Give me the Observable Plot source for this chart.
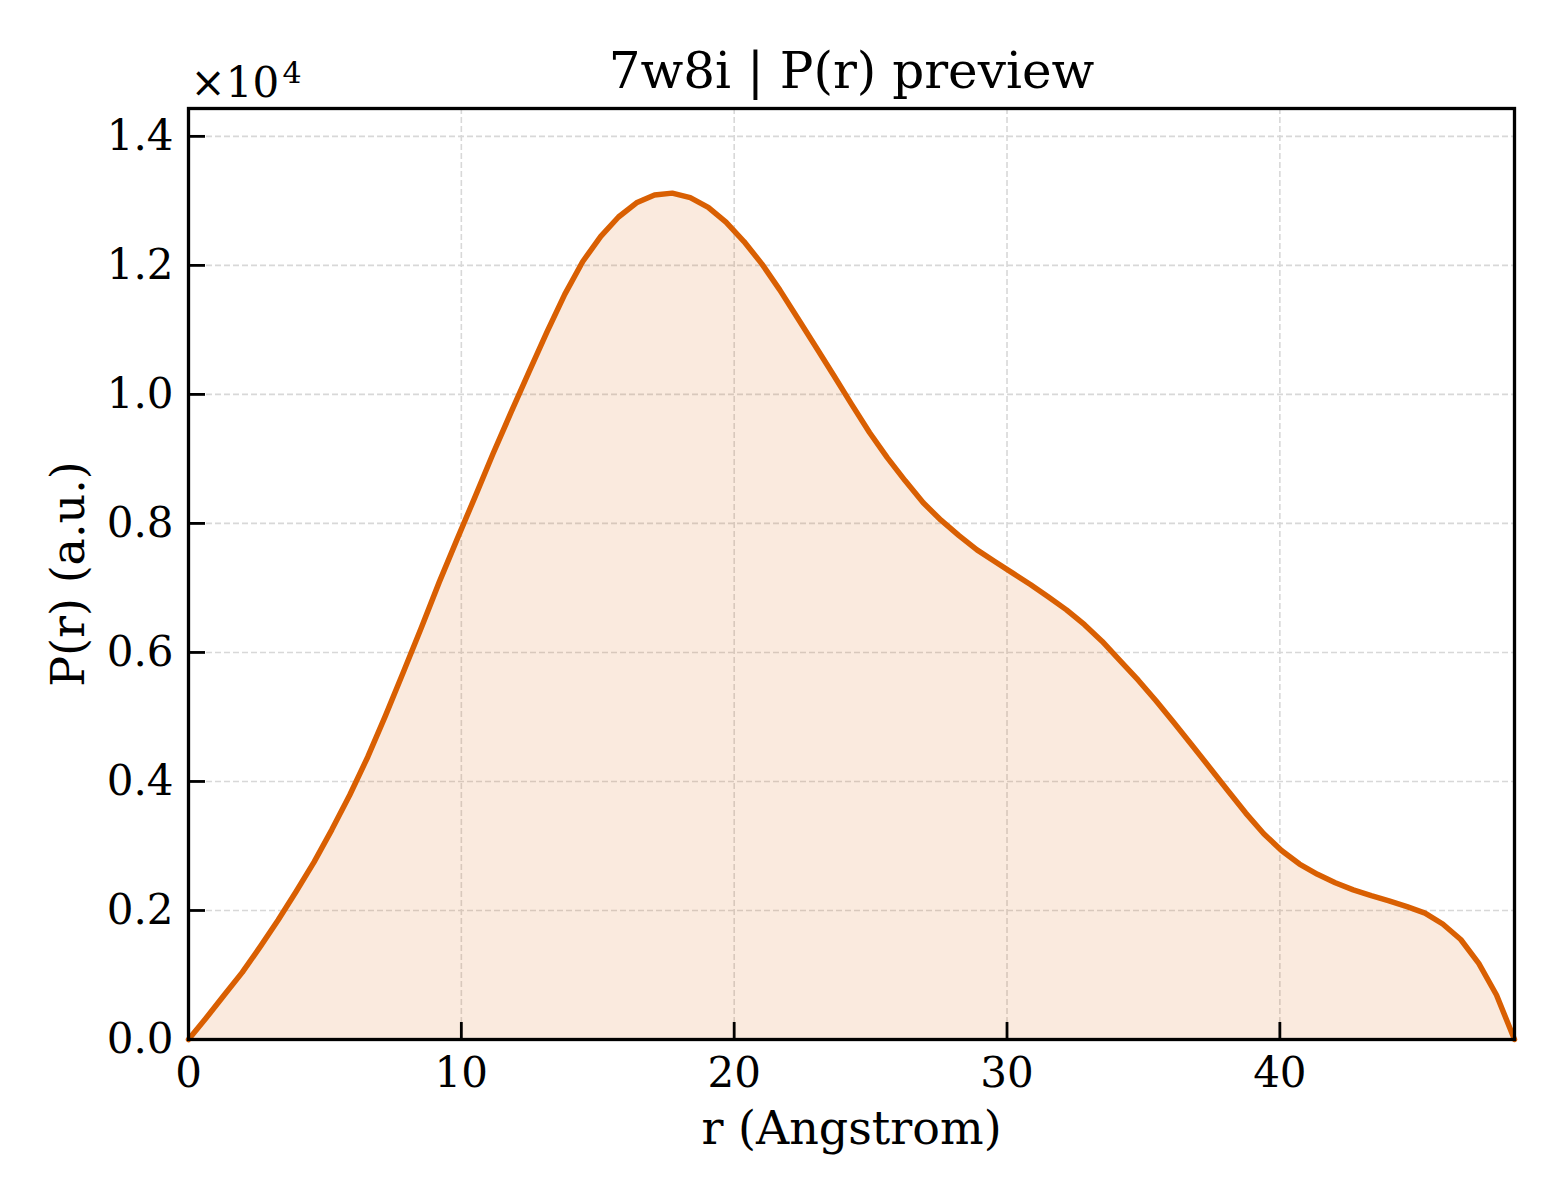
<!DOCTYPE html>
<html>
<head>
<meta charset="utf-8">
<script src="https://cdn.jsdelivr.net/npm/d3@7"></script>
<script src="https://cdn.jsdelivr.net/npm/@observablehq/plot@0.6"></script>
<style>
  html, body { margin: 0; padding: 0; background: #ffffff; }
  #chart { width: 1560px; height: 1200px; }
</style>
</head>
<body>
<div id="chart"></div>
<script>
// ---- data ----
const title = "7w8i | P(r) preview";
const xLabel = "r (Angstrom)";
const yLabel = "P(r) (a.u.)";
const offsetBase = "×10";
const offsetExp = "4";

const rValues = [0, 0.66, 1.31, 1.97, 2.63, 3.28, 3.94, 4.60, 5.25, 5.91,
  6.57, 7.22, 7.88, 8.54, 9.19, 9.85, 10.51, 11.16, 11.82, 12.48,
  13.14, 13.79, 14.45, 15.11, 15.76, 16.42, 17.08, 17.73, 18.39, 19.05,
  19.70, 20.36, 21.02, 21.67, 22.33, 22.99, 23.64, 24.30, 24.96, 25.61,
  26.27, 26.93, 27.58, 28.24, 28.90, 29.55, 30.21, 30.87, 31.52, 32.18,
  32.84, 33.49, 34.15, 34.81, 35.46, 36.12, 36.78, 37.44, 38.09, 38.75,
  39.41, 40.06, 40.72, 41.38, 42.03, 42.69, 43.35, 44.00, 44.66, 45.32,
  45.97, 46.63, 47.29, 47.94, 48.60];

const pValues = [0, 340, 690, 1040, 1440, 1850, 2290, 2750, 3250, 3790,
  4380, 5020, 5700, 6390, 7090, 7760, 8420, 9080, 9720, 10350,
  10970, 11550, 12060, 12450, 12750, 12970, 13090, 13120, 13050, 12900,
  12670, 12370, 12020, 11620, 11180, 10740, 10300, 9850, 9410, 9020,
  8660, 8320, 8050, 7810, 7590, 7410, 7230, 7050, 6860, 6660,
  6430, 6170, 5870, 5570, 5250, 4910, 4560, 4210, 3860, 3510,
  3190, 2930, 2720, 2560, 2430, 2320, 2230, 2150, 2060, 1960,
  1790, 1550, 1180, 690, 0];

const xTicks = [0, 10, 20, 30, 40];
const yTicks = [0, 2000, 4000, 6000, 8000, 10000, 12000, 14000];

// ---- table built from the arrays ----
const data = rValues.map((r, i) => ({r, p: pValues[i]}));

const W = 1560, H = 1200;
const mL = 188, mR = 46, mT = 108, mB = 161;
const plotW = W - mL - mR, plotH = H - mT - mB;
const color = "#d95f02";
const gridColor = "#d8d8d8";
const font = "'DejaVu Serif', 'Liberation Serif', serif";

const chart = Plot.plot({
  width: W,
  height: H,
  marginLeft: mL,
  marginRight: mR,
  marginTop: mT,
  marginBottom: mB,
  style: {fontFamily: font, fontSize: "42px", background: "#ffffff", color: "#000000"},
  x: {
    domain: [0, d3.max(rValues)],
    ticks: xTicks,
    tickSize: 0,
    tickPadding: 18,
    tickFormat: d => String(d),
    label: null
  },
  y: {
    domain: [0, d3.max(pValues) * 1.1],
    ticks: yTicks,
    tickSize: 0,
    tickPadding: 15,
    tickFormat: d => (d / 1e4).toFixed(1),
    label: null
  },
  marks: [
    // dashed grid
    Plot.ruleX(xTicks.filter(d => d > 0), {x: d => d, stroke: gridColor, strokeWidth: 1.6, strokeDasharray: "6,3"}),
    Plot.ruleY(yTicks.filter(d => d > 0), {y: d => d, stroke: gridColor, strokeWidth: 1.6, strokeDasharray: "6,3"}),
    // filled area + line
    Plot.areaY(data, {x: "r", y: "p", fill: color, fillOpacity: 0.13}),
    Plot.line(data, {x: "r", y: "p", stroke: color, strokeWidth: 5.5, strokeLinejoin: "round"}),
    // inward ticks
    Plot.tickX(xTicks, {x: d => d, insetTop: plotH - 17, stroke: "#000", strokeWidth: 2.8}),
    Plot.tickY(yTicks, {y: d => d, insetRight: plotW - 17, stroke: "#000", strokeWidth: 2.8}),
    // frame
    Plot.frame({stroke: "#000", strokeWidth: 3.3}),
    // texts
    Plot.text([title], {frameAnchor: "top", dy: -21, lineAnchor: "bottom", fontSize: 50, fill: "#000"}),
    Plot.text([offsetBase], {frameAnchor: "top-left", dx: 2, dy: -12, textAnchor: "start", lineAnchor: "bottom", fontSize: 42, fill: "#000"}),
    Plot.text([offsetExp], {frameAnchor: "top-left", dx: 94, dy: -26, textAnchor: "start", lineAnchor: "bottom", fontSize: 30, fill: "#000"}),
    Plot.text([xLabel], {frameAnchor: "bottom", dy: 104, lineAnchor: "bottom", fontSize: 46, fill: "#000"}),
    Plot.text([yLabel], {frameAnchor: "left", dx: -105, rotate: -90, textAnchor: "middle", lineAnchor: "bottom", fontSize: 46, fill: "#000"})
  ]
});

document.getElementById("chart").appendChild(chart);
</script>
</body>
</html>
